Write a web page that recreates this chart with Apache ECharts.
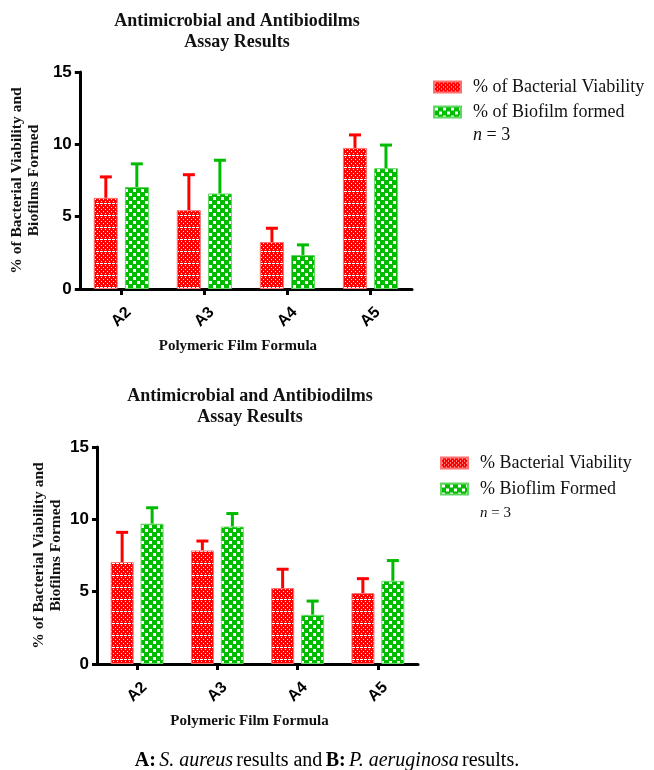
<!DOCTYPE html>
<html>
<head>
<meta charset="utf-8">
<script src="https://cdn.jsdelivr.net/npm/echarts@6/dist/echarts.min.js"></script>
<style>
  html, body { margin: 0; padding: 0; background: #fff; }
  #chart { width: 654px; height: 770px; }
</style>
</head>
<body>
<div id="chart"></div>
<script>
// ---------- data ----------
var categories = ['A2', 'A3', 'A4', 'A5'];
var yTicks = [0, 5, 10, 15];

// A: S. aureus
var viabilityA = [6.3, 5.45, 3.25, 9.75];
var viabilitySdA = [1.45, 2.45, 0.95, 0.9];
var biofilmA = [7.05, 6.6, 2.35, 8.35];
var biofilmSdA = [1.6, 2.3, 0.7, 1.6];

// B: P. aeruginosa
var viabilityB = [7.05, 7.85, 5.25, 4.9];
var viabilitySdB = [2.05, 0.65, 1.3, 1.0];
var biofilmB = [9.7, 9.5, 3.4, 5.75];
var biofilmSdB = [1.1, 0.9, 0.95, 1.4];

// ---------- fill patterns ----------
function redPattern() {
  var c = document.createElement('canvas');
  c.width = 4; c.height = 12;
  var ctx = c.getContext('2d');
  ctx.fillStyle = '#ff0000';
  ctx.fillRect(0, 0, 4, 12);
  ctx.fillStyle = '#ffffff';
  for (var y = 1; y < 11; y += 2) {
    ctx.fillRect((y % 4 === 1) ? 1 : 3, y, 1, 1);
  }
  ctx.fillRect(0, 11, 3, 1);
  return c;
}
function greenPattern() {
  var c = document.createElement('canvas');
  c.width = 8; c.height = 8;
  var ctx = c.getContext('2d');
  ctx.fillStyle = '#00bb00';
  ctx.fillRect(0, 0, 8, 8);
  ctx.fillStyle = '#ffffff';
  ctx.fillRect(1, 1, 3, 3);
  ctx.fillRect(5, 5, 3, 3);
  return c;
}
var RED = '#ff0000', GREEN = '#00bb00';
var redFill = { image: redPattern(), repeat: 'repeat' };
var greenFill = { image: greenPattern(), repeat: 'repeat' };

var serif = 'Liberation Serif';
var sans = 'Liberation Sans';

function barSeries(name, idx, data, fill, border, width) {
  return {
    name: name, type: 'bar', xAxisIndex: idx, yAxisIndex: idx,
    data: data, barWidth: width, barGap: '30%',
    itemStyle: { color: fill, borderColor: border, borderWidth: 1 },
    z: 2
  };
}

// upward-only SD bars with a cap, placed over each bar
function errorSeries(idx, means, sds, offset, color) {
  return {
    type: 'custom', xAxisIndex: idx, yAxisIndex: idx, silent: true, z: 1,
    data: means.map(function (m, i) { return [i, m, m + sds[i]]; }),
    renderItem: function (params, api) {
      var base = api.coord([api.value(0), api.value(1)]);
      var top = api.coord([api.value(0), api.value(2)]);
      var x = base[0] + offset;
      return {
        type: 'group',
        children: [
          { type: 'line', shape: { x1: x, y1: base[1], x2: x, y2: top[1] }, style: { stroke: color, lineWidth: 3 } },
          { type: 'line', shape: { x1: x - 6, y1: top[1], x2: x + 6, y2: top[1] }, style: { stroke: color, lineWidth: 3 } }
        ]
      };
    }
  };
}

function xAxis(idx) {
  return {
    type: 'category', gridIndex: idx, data: categories, boundaryGap: true,
    axisLine: { show: true, lineStyle: { color: '#000', width: 3 } },
    axisTick: { show: true, alignWithLabel: true, length: 6, lineStyle: { color: '#000', width: 3 } },
    axisLabel: { rotate: 45, margin: 28, align: 'center', verticalAlign: 'middle',
                 color: '#000', fontFamily: sans, fontWeight: 'bold', fontSize: 16 },
    name: 'Polymeric Film Formula', nameLocation: 'middle', nameGap: 50,
    nameTextStyle: { fontFamily: serif, fontWeight: 'bold', fontSize: 15, color: '#111', padding: [0, 16, 0, 0] }
  };
}
function yAxis(idx) {
  return {
    type: 'value', gridIndex: idx, min: yTicks[0], max: yTicks[yTicks.length - 1], interval: 5,
    axisLine: { show: true, lineStyle: { color: '#000', width: 3 } },
    axisTick: { show: true, length: 5, lineStyle: { color: '#000', width: 3 } },
    splitLine: { show: false },
    axisLabel: { margin: 8, color: '#000', fontFamily: sans, fontWeight: 'bold', fontSize: 17 },
    name: '% of Bacterial Viability and\nBiofilms Formed', nameLocation: 'middle', nameRotate: 90, nameGap: 33,
    nameTextStyle: { fontFamily: serif, fontWeight: 'bold', fontSize: 15.5, color: '#111', lineHeight: 17 }
  };
}

var titleStyle = { fontFamily: serif, fontWeight: 'bold', fontSize: 18, color: '#111', lineHeight: 21 };
var legendText = { fontFamily: serif, fontSize: 18, color: '#111', padding: [0, 0, 0, 7] };

var option = {
  animation: false,
  backgroundColor: '#fff',
  title: [
    { text: 'Antimicrobial and Antibiodilms\nAssay Results', left: 232, top: 6, textAlign: 'center', textStyle: titleStyle },
    { text: 'Antimicrobial and Antibiodilms\nAssay Results', left: 245, top: 381, textAlign: 'center', textStyle: titleStyle }
  ],
  legend: [
    { data: ['% of Bacterial Viability', '% of Biofilm formed'], left: 433, top: 78, padding: 0, orient: 'vertical',
      icon: 'rect', itemWidth: 27, itemHeight: 11, itemGap: 7, textStyle: legendText, selectedMode: false },
    { data: ['% Bacterial Viability', '% Bioflim Formed'], left: 440, top: 454, padding: 0, orient: 'vertical',
      icon: 'rect', itemWidth: 27, itemHeight: 11, itemGap: 8, textStyle: legendText, selectedMode: false }
  ],
  grid: [
    { left: 79, top: 72, width: 333, height: 217 },
    { left: 97, top: 447, width: 321, height: 217 }
  ],
  xAxis: [xAxis(0), xAxis(1)],
  yAxis: [yAxis(0), yAxis(1)],
  series: [
    barSeries('% of Bacterial Viability', 0, viabilityA, redFill, '#ff7070', 24),
    barSeries('% of Biofilm formed', 0, biofilmA, greenFill, '#60d860', 24),
    errorSeries(0, viabilityA, viabilitySdA, -15.5, RED),
    errorSeries(0, biofilmA, biofilmSdA, 15.5, GREEN),
    barSeries('% Bacterial Viability', 1, viabilityB, redFill, '#ff7070', 23),
    barSeries('% Bioflim Formed', 1, biofilmB, greenFill, '#60d860', 23),
    errorSeries(1, viabilityB, viabilitySdB, -15, RED),
    errorSeries(1, biofilmB, biofilmSdB, 15, GREEN)
  ],
  graphic: [
    { type: 'text', left: 473, top: 126, style: {
      text: '{i|n}{r| = 3}',
      rich: { i: { fontFamily: serif, fontStyle: 'italic', fontSize: 18, fill: '#111' },
              r: { fontFamily: serif, fontSize: 18, fill: '#111' } } } },
    { type: 'text', left: 480, top: 506, style: {
      text: '{i|n}{r| = 3}',
      rich: { i: { fontFamily: serif, fontStyle: 'italic', fontSize: 15, fill: '#111' },
              r: { fontFamily: serif, fontSize: 15, fill: '#111' } } } },
    { type: 'text', left: 'center', top: 751, style: {
      text: '{b|A:} {i|S. aureus} {r|results and} {b|B:} {i|P. aeruginosa} {r|results.}',
      rich: { b: { fontFamily: serif, fontWeight: 'bold', fontSize: 20, fill: '#000' },
              i: { fontFamily: serif, fontStyle: 'italic', fontSize: 20, fill: '#000' },
              r: { fontFamily: serif, fontSize: 20, fill: '#000' } } } }
  ]
};

var myChart = echarts.init(document.getElementById('chart'), null, { renderer: 'canvas' });
myChart.setOption(option);
</script>
</body>
</html>
